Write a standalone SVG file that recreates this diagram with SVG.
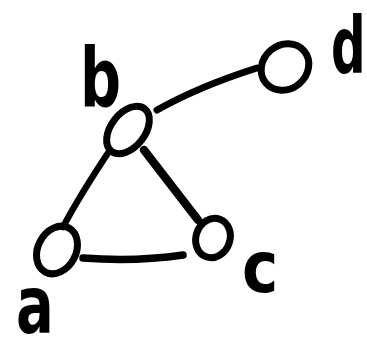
<svg xmlns="http://www.w3.org/2000/svg" width="367" height="338" viewBox="0 0 367 338">
<style>
.node{fill:none;stroke:#000;stroke-width:7}
.edge{fill:none;stroke:#000;stroke-linecap:round}
.lbl{font-family:"DejaVu Sans",sans-serif;font-weight:bold;fill:#000}
</style>
<rect width="367" height="338" fill="#fff"/>
<g id="edges">
<path class="edge" d="M157,110 Q200,86 257,68" stroke-width="7"/>
<path class="edge" d="M110,150 Q80,195 63,227" stroke-width="6.5"/>
<path class="edge" d="M144,150 Q175,190 198,220" stroke-width="8.5"/>
<path class="edge" d="M83,258 Q135,262 183,255" stroke-width="7.5"/>
</g>
<g id="node-b"><ellipse class="node" cx="128" cy="130" rx="27" ry="17" transform="rotate(-52 128 130)"/>
<text class="lbl" transform="translate(80,106) scale(0.7,1)" font-size="82">b</text></g>
<g id="node-d"><ellipse class="node" cx="285" cy="67" rx="25" ry="22" transform="rotate(-40 285 67)"/>
<text class="lbl" transform="translate(331,73) scale(0.62,1)" font-size="78">d</text></g>
<g id="node-a"><ellipse class="node" cx="57" cy="250" rx="25" ry="19" transform="rotate(-62 57 250)"/>
<text class="lbl" transform="translate(16,333) scale(0.7,1)" font-size="80">a</text></g>
<g id="node-c"><ellipse class="node" cx="213" cy="238" rx="20" ry="17" transform="rotate(-70 213 238)"/>
<text class="lbl" transform="translate(242,292) scale(0.85,1)" font-size="72">c</text></g>
</svg>
